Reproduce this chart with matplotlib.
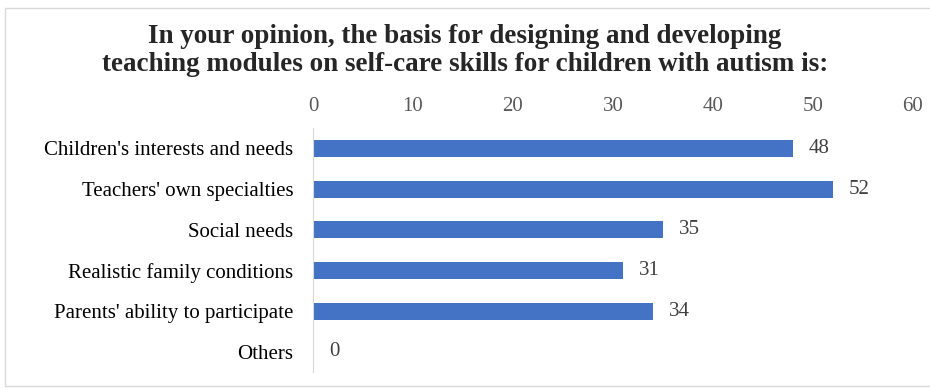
import matplotlib.pyplot as plt
from matplotlib.patches import Rectangle

categories = ["Children's interests and needs", "Teachers' own specialties", "Social needs",
              "Realistic family conditions", "Parents' ability to participate", "Others"]
values = [48, 52, 35, 31, 34, 0]
xticks = [0, 10, 20, 30, 40, 50, 60]

plt.rcParams['font.family'] = ['Liberation Serif', 'DejaVu Serif']

fig = plt.figure(figsize=(9.3, 3.88), dpi=100)
ax = fig.add_axes([0.3366, 0.041, 0.645, 0.629])

ypos = list(range(len(categories)))
ax.barh(ypos, values, height=0.42, color='#4472C4')
for y, v in zip(ypos, values):
    ax.text(v + 1.6, y, str(v), va='center', ha='left', fontsize=15, color='#404040')

ax.set_xlim(0, 60)
ax.set_ylim(len(categories) - 0.5, -0.5)
ax.set_yticks(ypos)
ax.set_yticklabels(categories, fontsize=15, color='black')
ax.set_xticks(xticks)
ax.set_xticklabels([str(t) for t in xticks], fontsize=15, color='#595959')
ax.xaxis.tick_top()
ax.tick_params(length=0)
ax.tick_params(axis='x', pad=9)
ax.tick_params(axis='y', pad=14)
for s in ['top', 'right', 'bottom']:
    ax.spines[s].set_visible(False)
ax.spines['left'].set_color('#d9d9d9')

fig.text(0.50, 0.870, "In your opinion, the basis for designing and developing\n"
         "teaching modules on self-care skills for children with autism is:",
         ha='center', va='center', fontsize=19.5, fontweight='bold', color='#262626',
         linespacing=1.12)

fig.patches.append(Rectangle((0.005, 0.005), 1.2, 0.975, transform=fig.transFigure,
                             fill=False, edgecolor='#d9d9d9', linewidth=1))

fig.savefig('out.png', dpi=100)
